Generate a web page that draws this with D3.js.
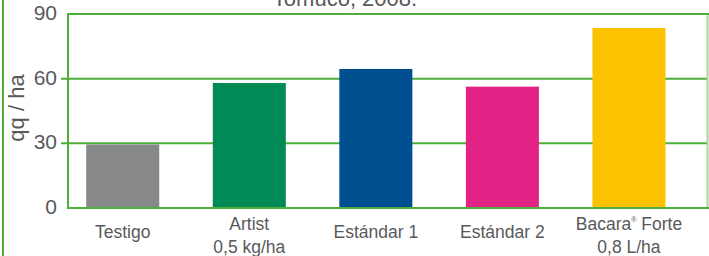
<!DOCTYPE html>
<html>
<head>
<meta charset="utf-8">
<script src="https://cdn.jsdelivr.net/npm/d3@7"></script>
<style>
  body { margin: 0; background: #fff; }
  text { font-family: "Liberation Sans", Arial, sans-serif; fill: #58595b; }
</style>
</head>
<body>
<div id="chart"></div>
<script>
// data
var categories = ["Testigo", "Artist", "Estándar 1", "Estándar 2", "Bacara Forte"];
var labelLines = [["Testigo"], ["Artist", "0,5 kg/ha"], ["Estándar 1"], ["Estándar 2"], ["Bacara® Forte", "0,8 L/ha"]];
var values = [29.5, 58, 64.5, 56.3, 83.5];
var colors = ["#87888a", "#008a55", "#004f91", "#e32285", "#fcc200"];
var yTicks = [0, 30, 60, 90];
var title = "Tomuco, 2008.";
var yTitle = "qq / ha";

var width = 709, height = 256;
var margin = { top: 14, right: 1, bottom: 48, left: 68 };
var green = "#4fae3a";

var svg = d3.select("#chart").append("svg")
  .attr("width", width)
  .attr("height", height);

var x = d3.scaleBand()
  .domain(categories)
  .range([margin.left, width - margin.right])
  .paddingInner(0.423)
  .paddingOuter(0.24)
  .align(0.3);

var y = d3.scaleLinear()
  .domain([0, 90])
  .range([height - margin.bottom, margin.top]);

// outer green line on the left side
svg.append("line")
  .attr("x1", 3).attr("x2", 3)
  .attr("y1", 0).attr("y2", height)
  .attr("stroke", green).attr("stroke-width", 2);

// grid lines with small ticks
svg.append("g").selectAll("line")
  .data([30, 60])
  .join("line")
  .attr("x1", margin.left - 7)
  .attr("x2", width - margin.right)
  .attr("y1", d => y(d))
  .attr("y2", d => y(d))
  .attr("stroke", green)
  .attr("stroke-width", 2);

// right border (lighter)
svg.append("line")
  .attr("x1", width - 1.5).attr("x2", width - 1.5)
  .attr("y1", y(90)).attr("y2", y(0))
  .attr("stroke", "#a8d89a").attr("stroke-width", 2);

// bars
svg.append("g").selectAll("rect")
  .data(values)
  .join("rect")
  .attr("x", (d, i) => x(categories[i]))
  .attr("width", x.bandwidth())
  .attr("y", d => y(d))
  .attr("height", d => y(0) - y(d))
  .attr("fill", (d, i) => colors[i]);

// frame: left axis, top and bottom lines
svg.append("path")
  .attr("d", "M" + width + "," + y(90) + "H" + margin.left + "V" + y(0) + "H" + width)
  .attr("fill", "none")
  .attr("stroke", green)
  .attr("stroke-width", 2);

// y tick labels
svg.append("g").selectAll("text")
  .data(yTicks)
  .join("text")
  .attr("x", margin.left - 11)
  .attr("y", d => y(d) + 6)
  .attr("text-anchor", "end")
  .style("font-size", "21px")
  .text(d => d);

// category labels
var lab = svg.append("g").selectAll("text")
  .data(categories)
  .join("text")
  .attr("text-anchor", "middle")
  .style("font-size", "17.5px")
  .attr("x", d => x(d) + x.bandwidth() / 2)
  .attr("y", (d, i) => labelLines[i].length > 1 ? 230 : 238);

lab.each(function (d, i) {
  var t = d3.select(this);
  labelLines[i].forEach(function (line, j) {
    var ts = t.append("tspan")
      .attr("x", x(d) + x.bandwidth() / 2)
      .attr("dy", j === 0 ? 0 : 23);
    if (line.indexOf("®") >= 0) {
      var parts = line.split("®");
      ts.append("tspan").text(parts[0]);
      ts.append("tspan").text("®").style("font-size", "7px").attr("dy", -8);
      ts.append("tspan").text(parts[1]).attr("dy", 8);
    } else {
      ts.text(line);
    }
  });
});

// title, cut off at the top
svg.append("text")
  .attr("x", 345)
  .attr("y", 6)
  .attr("text-anchor", "middle")
  .style("font-size", "22px")
  .text(title);

// y axis title
svg.append("text")
  .attr("transform", "translate(24," + 108 + ") rotate(-90)")
  .attr("text-anchor", "middle")
  .style("font-size", "22px")
  .text(yTitle);
</script>
</body>
</html>
